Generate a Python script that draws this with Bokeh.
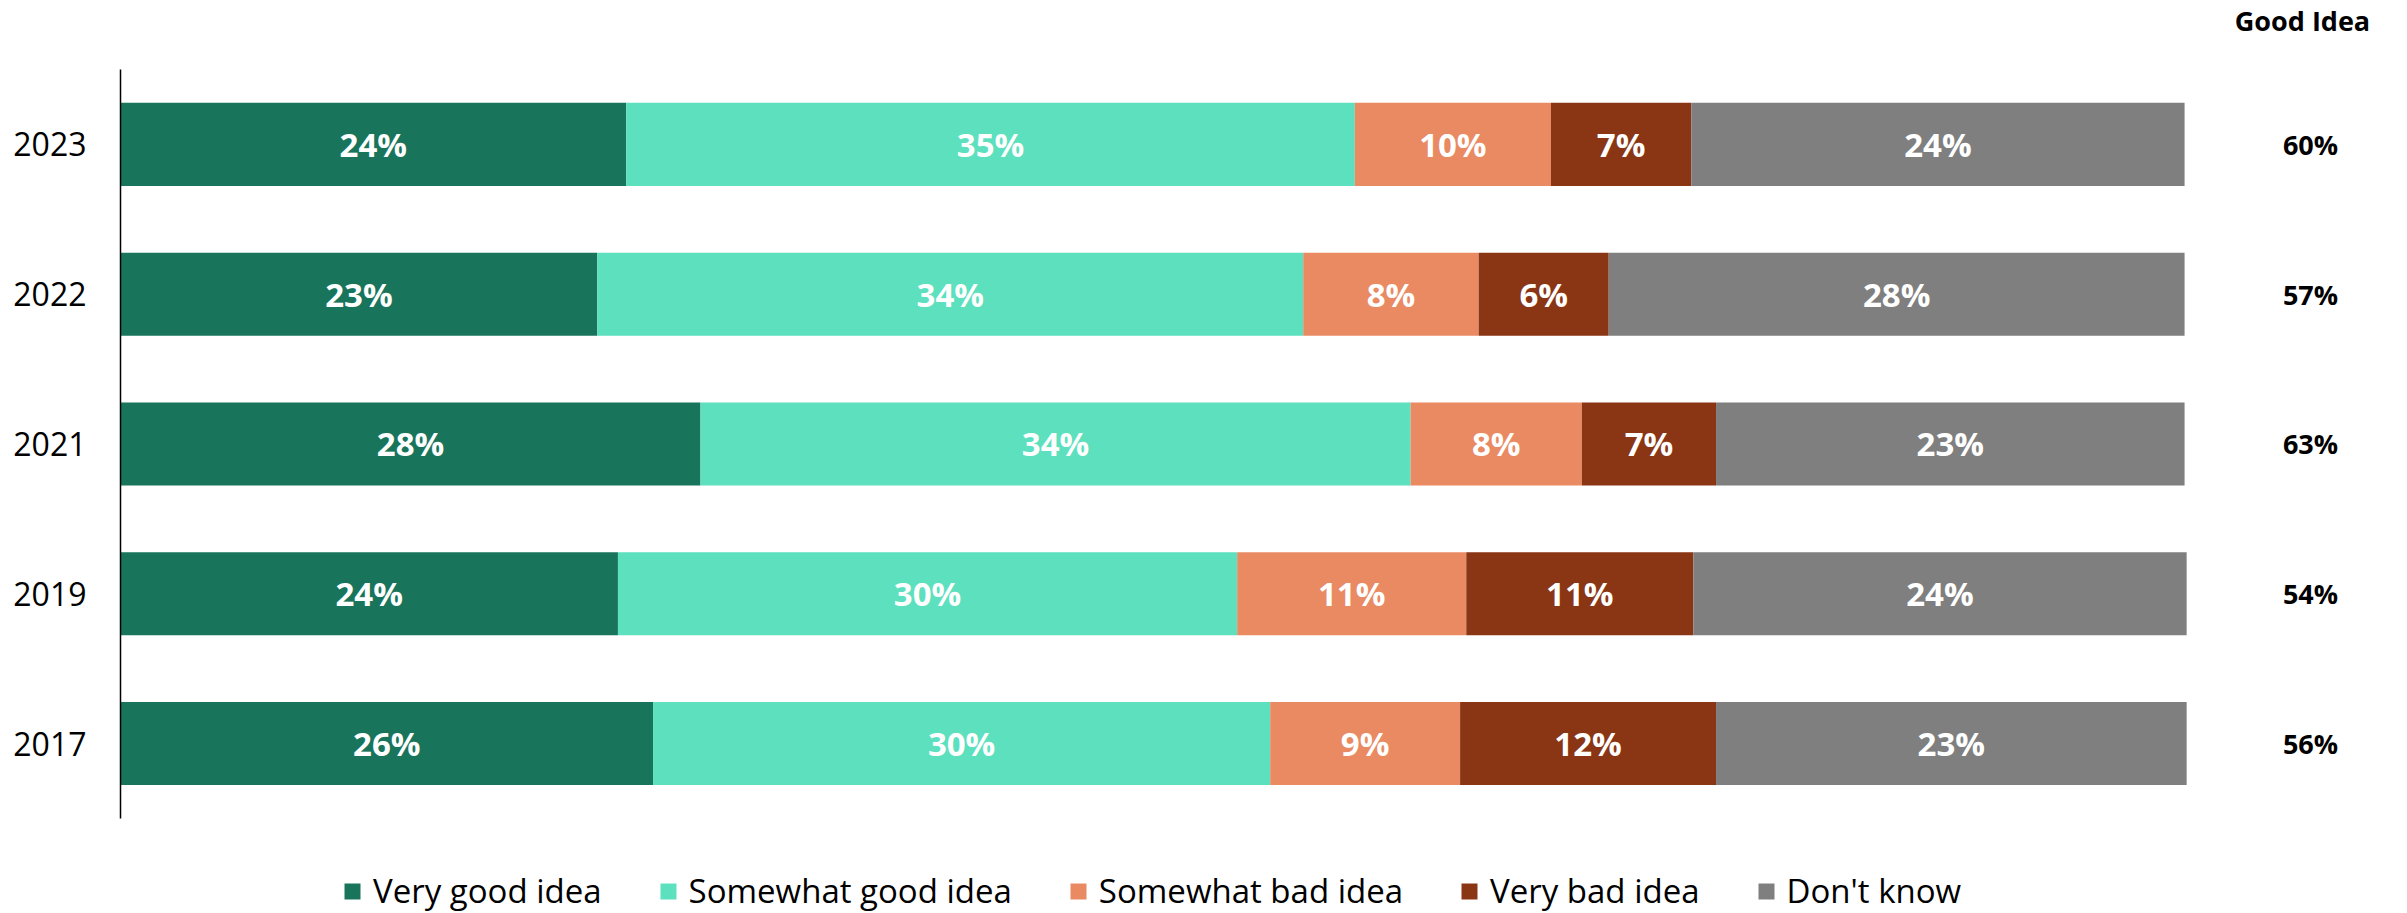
import numpy as np
from bokeh.plotting import figure
from bokeh.models import (ColumnDataSource, Range1d, Legend, LegendItem, Label,
                          FixedTicker)
from bokeh.core.properties import value
from bokeh.embed import file_html
from bokeh.resources import INLINE

# ---------------- data ----------------
years = ["2023", "2022", "2021", "2019", "2017"]
categories = ["Very good idea", "Somewhat good idea", "Somewhat bad idea",
              "Very bad idea", "Don't know"]
very_good = [24.5, 23.1, 28.1, 24.1, 25.8]
somewhat_good = [35.3, 34.2, 34.4, 30.0, 29.9]
somewhat_bad = [9.5, 8.5, 8.3, 11.1, 9.2]
very_bad = [6.8, 6.3, 6.5, 11.0, 12.4]
dont_know = [23.9, 27.9, 22.7, 23.9, 22.8]

very_good_lbl = [24, 23, 28, 24, 26]
somewhat_good_lbl = [35, 34, 34, 30, 30]
somewhat_bad_lbl = [10, 8, 8, 11, 9]
very_bad_lbl = [7, 6, 7, 11, 12]
dont_know_lbl = [24, 28, 23, 24, 23]

good_idea = [60, 57, 63, 54, 56]

colors = ["#18745B", "#5CE0BE", "#E98A62", "#8A3514", "#7F7F7F"]

# ---------------- layout constants ----------------
FONT = "Open Sans"
W, H = 2407, 913
X_END = 110.8          # room on the right for the "Good Idea" column
GOOD_X = 106.1
Y_START, Y_END = -1.135, 4.961   # room below for legend, above for header

n = len(years)
ypos = [n - 1 - i for i in range(n)]   # 2023 at top

p = figure(width=W, height=H, output_backend="svg", toolbar_location=None,
           x_range=Range1d(0, X_END), y_range=Range1d(Y_START, Y_END),
           min_border_left=120, min_border_right=0, min_border_top=0,
           min_border_bottom=0)
p.title.visible = False

series = [very_good, somewhat_good, somewhat_bad, very_bad, dont_know]
labels = [very_good_lbl, somewhat_good_lbl, somewhat_bad_lbl, very_bad_lbl, dont_know_lbl]
keys = ["vg", "sg", "sb", "vb", "dk"]

data = {"y": ypos}
for k, s in zip(keys, series):
    data[k] = s
src = ColumnDataSource(data)

rends = p.hbar_stack(keys, y="y", height=0.555, color=colors, line_color=None,
                     source=src)

# segment labels
arr = np.array(series, dtype=float)
cum = np.cumsum(arr, axis=0)
mids = cum - arr / 2
lx, ly, lt = [], [], []
for i in range(len(series)):
    for j in range(n):
        lx.append(mids[i, j])
        ly.append(ypos[j])
        lt.append(f"{labels[i][j]}%")
lsrc = ColumnDataSource(dict(x=lx, y=ly, text=lt))
p.text(x="x", y="y", text="text", source=lsrc, text_color="white",
       text_font=value(FONT), text_font_style="bold", text_font_size="33px",
       text_align="center", text_baseline="middle")

# good idea column
gsrc = ColumnDataSource(dict(y=ypos, text=[f"{g}%" for g in good_idea]))
p.text(x=GOOD_X, y="y", text="text", source=gsrc, text_color="black",
       text_font=value(FONT), text_font_style="bold", text_font_size="27px",
       text_align="center", text_baseline="middle")

hdr = Label(x=GOOD_X, x_offset=-8, y=893, y_units="screen", text="Good Idea",
            text_font=FONT, text_font_style="bold", text_font_size="27px",
            text_align="center", text_baseline="middle", text_color="black")
p.add_layout(hdr)

# axes
p.xaxis.visible = False
p.xgrid.visible = False
p.ygrid.visible = False
p.outline_line_color = None

ya = p.yaxis[0]
ya.ticker = FixedTicker(ticks=ypos)
ya.major_label_overrides = {int(v): yr for v, yr in zip(ypos, years)}
ya.bounds = (-0.5, n - 0.5)
ya.axis_line_color = "black"
ya.axis_line_width = 1.5
ya.major_tick_line_color = None
ya.minor_tick_line_color = None
ya.major_tick_out = 0
ya.major_tick_in = 0
ya.major_label_standoff = 34
ya.major_label_text_font = FONT
ya.major_label_text_font_size = "32px"
ya.major_label_text_color = "black"

# legend inside the frame, below the bars
items = [LegendItem(label=c, renderers=[r]) for c, r in zip(categories, rends)]
legend = Legend(items=items, orientation="horizontal", location=(222, 0),
                label_text_font=FONT, label_text_font_size="33px",
                label_text_color="black", glyph_width=20, glyph_height=20,
                label_standoff=11, spacing=56, padding=0, margin=0,
                border_line_alpha=0, background_fill_alpha=0)
p.add_layout(legend)

open("out.html", "w").write(file_html(p, INLINE))
